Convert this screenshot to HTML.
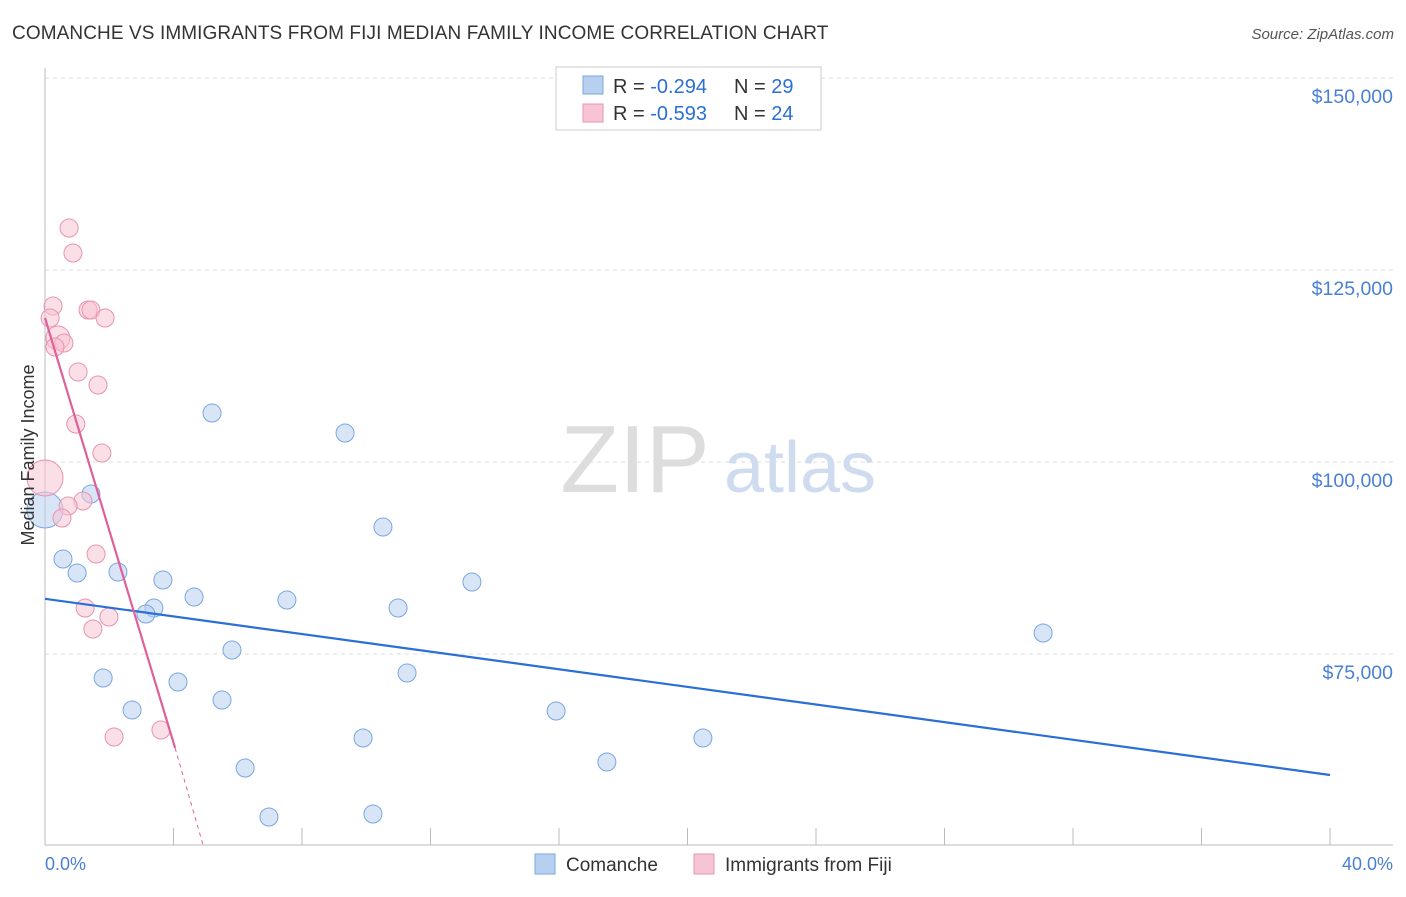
<!DOCTYPE html>
<html><head><meta charset="utf-8"><style>
body{margin:0;background:#fff;font-family:"Liberation Sans",sans-serif;}
svg text{font-family:"Liberation Sans",sans-serif;}
</style></head><body>
<svg id="c" width="1406" height="892">
<text x="12" y="39" font-size="19" letter-spacing="0.1" fill="#333">COMANCHE VS IMMIGRANTS FROM FIJI MEDIAN FAMILY INCOME CORRELATION CHART</text>
<text x="1394" y="39" font-size="15" fill="#555" font-style="italic" text-anchor="end">Source: ZipAtlas.com</text>
<g id="grid"></g>
<text x="635" y="492" font-size="96" fill="#ddd" font-family="Liberation Serif" text-anchor="middle">ZIP</text>
<text x="800" y="492" font-size="72" fill="#cfdcf0" text-anchor="middle">atlas</text>
<g id="marks"></g>
<text transform="translate(34,455) rotate(-90)" font-size="18" fill="#333" text-anchor="middle">Median Family Income</text>
<text x="45" y="870" font-size="18" fill="#4a7fd4">0.0%</text>
<text x="1393" y="870" font-size="18" fill="#4a7fd4" text-anchor="end">40.0%</text>
<g>
<rect x="556" y="67" width="265" height="63" fill="#fff" stroke="#ccc"/>
<rect x="583" y="76" width="20" height="18" fill="#b8d0f0" stroke="#7aa7e0"/>
<rect x="583" y="104" width="20" height="18" fill="#f7c4d4" stroke="#e893b0"/>
<text x="613" y="93" font-size="20" fill="#333">R = <tspan fill="#2b6fd6">-0.294</tspan></text>
<text x="734" y="93" font-size="20" fill="#333">N = <tspan fill="#2b6fd6">29</tspan></text>
<text x="613" y="120" font-size="20" fill="#333">R = <tspan fill="#2b6fd6">-0.593</tspan></text>
<text x="734" y="120" font-size="20" fill="#333">N = <tspan fill="#2b6fd6">24</tspan></text>
</g>
<g>
<rect x="535" y="854" width="20" height="20" fill="#b8d0f0" stroke="#7aa7e0"/>
<text x="566" y="871" font-size="19" fill="#333">Comanche</text>
<rect x="694" y="854" width="20" height="20" fill="#f7c4d4" stroke="#e893b0"/>
<text x="725" y="871" font-size="19" fill="#333">Immigrants from Fiji</text>
</g>
</svg>
<script>
const yTicks=[75000,100000,125000,150000];
const yTickLabels=["$75,000","$100,000","$125,000","$150,000"];
const blueX=[5.20,9.34,10.52,1.43,0.56,1.00,2.27,3.67,4.64,3.39,3.14,7.53,10.99,13.29,5.82,1.81,4.14,11.27,5.51,2.71,15.91,9.90,20.48,6.23,17.49,6.97,10.21,31.07,0];
const blueY=[106380,103776,91536,95833,87370,85547,85677,84635,82422,80990,80208,82031,80990,84375,75521,71875,71354,72526,69010,67708,67578,64063,64063,60156,60938,53776,54167,77734,93750];
const blueR=[9,9,9,9,9,9,9,9,9,9,9,9,9,9,9,9,9,9,9,9,9,9,9,9,9,9,9,9,18];
const pinkX=[0.75,0.87,0.25,1.34,1.43,1.87,0.16,0.40,0.59,0.31,1.03,1.65,0.96,1.77,0,1.18,0.72,0.53,1.59,1.25,1.99,1.49,3.61,2.15];
const pinkY=[130469,127214,120313,119792,119792,118750,118750,116146,115495,114974,111719,110026,104948,101172,97917,94922,94271,92708,88021,80990,79818,78255,65104,64193];
const pinkR=[9,9,9,9,9,9,9,12,9,9,9,9,9,9,18,9,9,9,9,9,9,9,9,9];
const blueLine=[[0,82188],[40,59245]];
const pinkLine=[[0,118750],[4.05,62760]];
const pinkDash=[[4.05,62760],[4.92,50130]];
const X=p=>45+p*32.125, Y=v=>462-(v-100000)*192/25000;
const NS="http://www.w3.org/2000/svg";
function mk(t,a,parent){const e=document.createElementNS(NS,t);for(const k in a)e.setAttribute(k,a[k]);parent.appendChild(e);return e;}
const g=document.getElementById('grid'), m=document.getElementById('marks');
yTicks.forEach((v,i)=>{
 const l=mk('line',{x1:45,x2:1393,y1:Y(v),y2:Y(v),stroke:'#ddd','stroke-dasharray':'4,4'},g);
 
 
 const t=mk('text',{x:1393,y:Y(v)+25,'font-size':19.5,fill:'#4a7fd4','text-anchor':'end'},g);
 t.textContent=yTickLabels[i];
 
 
});
mk('line',{x1:45,x2:45,y1:68,y2:845,stroke:'#bbb'},g);
mk('line',{x1:45,x2:1393,y1:845,y2:845,stroke:'#bbb'},g);
for(let i=1;i<=10;i++){const t=mk('line',{x1:X(i*4),x2:X(i*4),y1:828,y2:845,stroke:'#bbb'},g);
 
 }
function dots(xs,ys,rs,fill,stroke,name){xs.forEach((x,i)=>{const c=mk('circle',{cx:X(x),cy:Y(ys[i]),r:rs[i],fill:fill,'fill-opacity':0.55,stroke:stroke,'stroke-width':1},m);
 
 });}
dots(blueX,blueY,blueR,'#b8d0f0','#7aa7e0','comanche-point');
dots(pinkX,pinkY,pinkR,'#f7c4d4','#e893b0','fiji-point');
function line(pts,col,dash,name){const l=mk('line',{x1:X(pts[0][0]),y1:Y(pts[0][1]),x2:X(pts[1][0]),y2:Y(pts[1][1]),stroke:col,'stroke-width':dash?1:2.2},m);
 if(dash)l.setAttribute('stroke-dasharray','4,4');
 
 }
line(blueLine,'#2b6fd6',false,'comanche-trendline');
line(pinkLine,'#e0609a',false,'fiji-trendline');
line(pinkDash,'#e0609a',true,'fiji-trendline-extension');
</script>
</body></html>
